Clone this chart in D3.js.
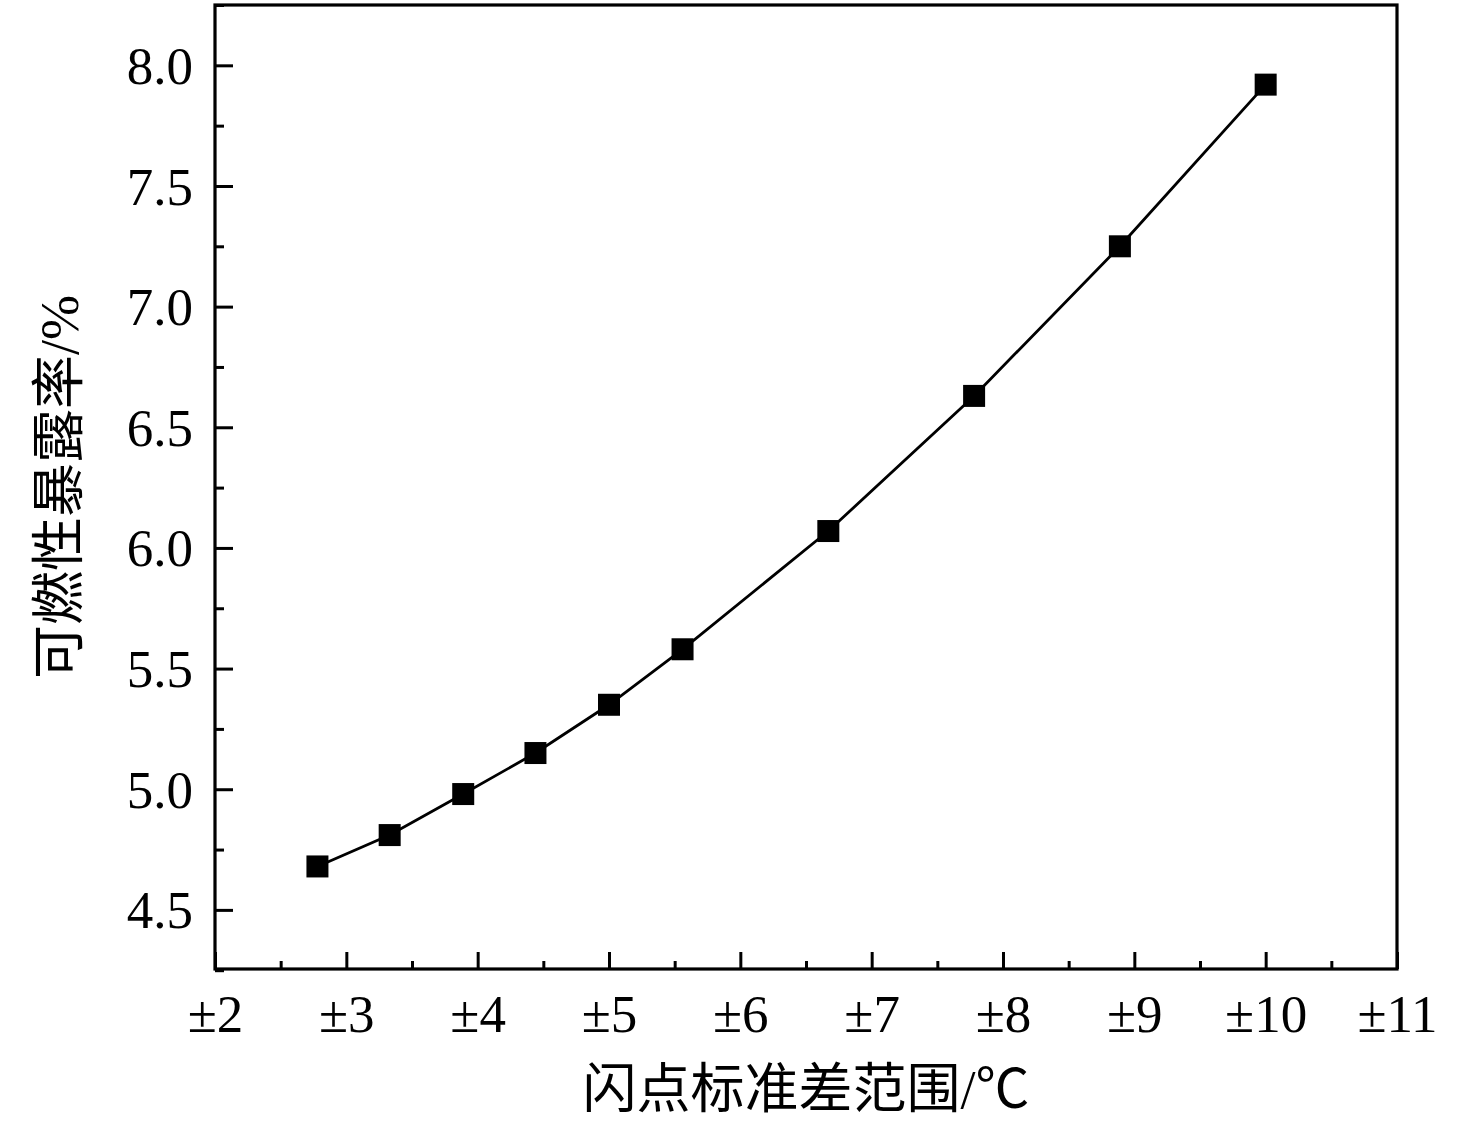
<!DOCTYPE html>
<html>
<head>
<meta charset="utf-8">
<script src="https://cdn.jsdelivr.net/npm/d3@7"></script>
<style>
  html, body { margin: 0; padding: 0; background: #fff; }
  svg { display: block; }
</style>
</head>
<body>
<svg id="chart" width="1476" height="1134"></svg>
<script>
const xValues = [2.78, 3.33, 3.89, 4.44, 5.00, 5.56, 6.67, 7.78, 8.89, 10.00];
const yValues = [4.68, 4.81, 4.98, 5.15, 5.35, 5.58, 6.07, 6.63, 7.25, 7.92];
const xTicks = [2, 3, 4, 5, 6, 7, 8, 9, 10, 11];
const yTicks = [4.5, 5.0, 5.5, 6.0, 6.5, 7.0, 7.5, 8.0];
const xTitle = "闪点标准差范围/℃";
const yTitle = "可燃性暴露率/%";

const W = 1476, H = 1134;
const m = { left: 215, right: 1397, top: 5, bottom: 969 };
const svg = d3.select("#chart");
const numFont = "'Liberation Serif', 'Times New Roman', serif";
const cjkFont = "'Liberation Serif', 'Noto Sans CJK SC', serif";

const x = d3.scaleLinear().domain([2, 11]).range([m.left, m.right]);
const y = d3.scaleLinear().domain([4.255, 8.25]).range([m.bottom, m.top]);

const xMinor = d3.range(2.5, 11, 1);
const yMinor = d3.range(4.25, 8.26, 0.5);

const gx = svg.append("g").attr("transform", `translate(0,${m.bottom})`);
gx.call(d3.axisBottom(x).tickValues(xMinor).tickSize(-8).tickFormat(""));
gx.call(g => g.selectAll(".domain").remove());
const gx2 = svg.append("g").attr("transform", `translate(0,${m.bottom})`);
gx2.call(d3.axisBottom(x).tickValues(xTicks).tickSize(-17).tickPadding(25).tickFormat(d => "±" + d));
gx2.call(g => g.selectAll(".domain").remove());

const gy = svg.append("g").attr("transform", `translate(${m.left},0)`);
gy.call(d3.axisLeft(y).tickValues(yMinor).tickSize(-9).tickFormat(""));
gy.call(g => g.selectAll(".domain").remove());
const gy2 = svg.append("g").attr("transform", `translate(${m.left},0)`);
gy2.call(d3.axisLeft(y).tickValues(yTicks).tickSize(-18).tickPadding(22).tickFormat(d3.format(".1f")));
gy2.call(g => g.selectAll(".domain").remove());

svg.selectAll(".tick line").attr("stroke", "#000").attr("stroke-width", 3);
svg.selectAll(".tick text").attr("fill", "#000").style("font-family", numFont).style("font-size", "53px");
gx2.selectAll(".tick text").attr("dy", "0.71em");
gy2.selectAll(".tick text").attr("dy", "0.34em");

svg.append("rect")
  .attr("x", m.left).attr("y", m.top)
  .attr("width", m.right - m.left).attr("height", m.bottom - m.top)
  .attr("fill", "none").attr("stroke", "#000").attr("stroke-width", 3.2);

const data = xValues.map((v, i) => ({ x: v, y: yValues[i] }));

svg.append("path").datum(data)
  .attr("fill", "none").attr("stroke", "#000").attr("stroke-width", 2.8)
  .attr("d", d3.line().x(d => x(d.x)).y(d => y(d.y)));

const s = 22;
svg.selectAll("rect.pt").data(data).enter().append("rect")
  .attr("class", "pt")
  .attr("x", d => x(d.x) - s / 2).attr("y", d => y(d.y) - s / 2)
  .attr("width", s).attr("height", s).attr("fill", "#000");

svg.append("text")
  .attr("x", (m.left + m.right) / 2).attr("y", 1108)
  .attr("text-anchor", "middle")
  .style("font-family", cjkFont).style("font-size", "54px")
  .text(xTitle);

svg.append("text")
  .attr("transform", `translate(78,${(m.top + m.bottom) / 2}) rotate(-90)`)
  .attr("text-anchor", "middle")
  .style("font-family", cjkFont).style("font-size", "54px")
  .text(yTitle);
</script>
</body>
</html>
